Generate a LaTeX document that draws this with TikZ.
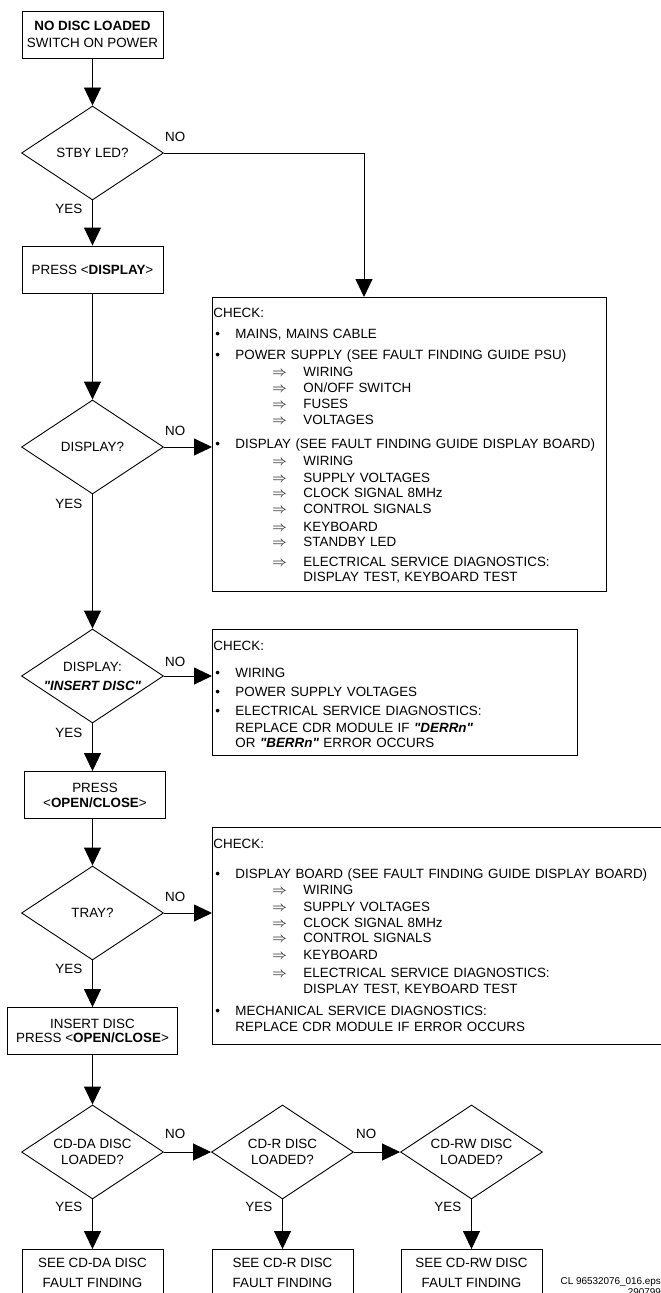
\documentclass[tikz,border=0pt]{standalone}
\usepackage{fontspec}
\setmainfont{Liberation Sans}
\usetikzlibrary{shapes.geometric,arrows.meta,positioning,calc}
\setlength{\parindent}{0pt}
\newcommand{\chartfont}{\fontsize{13.4}{16}\selectfont}
\newcommand{\chkitem}[1]{\makebox[22pt][l]{\hspace{2pt}\textbullet}#1}
\newcommand{\chksub}[1]{\hspace*{59pt}\makebox[31pt][l]{$\Rightarrow$}#1}
\newcommand{\chkcont}[1]{\hspace*{90pt}#1}
\newcommand{\msgtext}[1]{\textbf{\textit{\textquotedbl#1\textquotedbl}}}
\tikzset{
    process/.style = {rectangle, draw=black, line width=0.9pt, minimum width=141pt, minimum height=47pt, inner sep=0pt, align=center, font=\chartfont},
    decision/.style = {diamond, draw=black, line width=0.9pt, minimum width=142pt, minimum height=94pt, inner sep=0pt, shape aspect=1.5, align=center, font=\chartfont},
    checkbox/.style = {rectangle, draw=black, line width=0.9pt, anchor=north west, inner xsep=1pt, inner ysep=0pt, align=left, font=\chartfont},
    lbl/.style = {inner sep=0pt, font=\chartfont},
    arrow/.style = {line width=0.9pt, -{Triangle[length=18pt,width=17pt]}}
}
\begin{document}
\begin{tikzpicture}[x=1pt, y=-1pt]
\useasboundingbox (0,0) rectangle (661,1293);
% left column
\node (start) [process] at (92.5,34.5) {\textbf{NO DISC LOADED}\\[1pt]SWITCH ON POWER};
\node (stby) [decision] at (92.5,153) {STBY LED?};
\node (pressdisp) [process] at (92.5,269.5) {PRESS <\textbf{DISPLAY}>};
\node (dispq) [decision] at (92.5,447) {DISPLAY?};
\node (insq) [decision] at (92.5,676) {DISPLAY:\\[3pt]\msgtext{INSERT DISC}};
\node (pressoc) [process] at (95,795) {PRESS\\[-1pt]<\textbf{OPEN/CLOSE}>};
\node (trayq) [decision] at (92.5,913) {TRAY?};
\node (insdisc) [process, minimum width=170pt] at (92.5,1031) {INSERT DISC\\[-2pt]PRESS <\textbf{OPEN/CLOSE}>};
% bottom row
\node (cdda) [decision] at (92.5,1152) {CD-DA DISC\\LOADED?};
\node (cdr) [decision] at (282.5,1152) {CD-R DISC\\LOADED?};
\node (cdrw) [decision] at (471.5,1152) {CD-RW DISC\\LOADED?};
\node (seeda) [process] at (92.5,1273) {SEE CD-DA DISC\\[4pt]FAULT FINDING};
\node (seer) [process] at (282.5,1273) {SEE CD-R DISC\\[4pt]FAULT FINDING};
\node (seerw) [process] at (471.5,1273) {SEE CD-RW DISC\\[4pt]FAULT FINDING};
% check boxes
\node (chk1) [checkbox, text width=392pt] at (212,297) {\rule{0pt}{20pt}CHECK:\\[5pt]
\chkitem{MAINS, MAINS CABLE}\\[5pt]
\chkitem{POWER SUPPLY (SEE FAULT FINDING GUIDE PSU)}\\[1pt]
\chksub{WIRING}\\
\chksub{ON/OFF SWITCH}\\
\chksub{FUSES}\\
\chksub{VOLTAGES}\\[8pt]
\chkitem{DISPLAY (SEE FAULT FINDING GUIDE DISPLAY BOARD)}\\[1pt]
\chksub{WIRING}\\[1pt]
\chksub{SUPPLY VOLTAGES}\\[-1pt]
\chksub{CLOCK SIGNAL 8MHz}\\
\chksub{CONTROL SIGNALS}\\[2pt]
\chksub{KEYBOARD}\\[-1pt]
\chksub{STANDBY LED}\\[4pt]
\chksub{ELECTRICAL SERVICE DIAGNOSTICS:}\\[-1pt]
\chkcont{DISPLAY TEST, KEYBOARD TEST}\rule[-10pt]{0pt}{10pt}};
\node (chk2) [checkbox, text width=363pt] at (212,629) {\rule{0pt}{21pt}CHECK:\\[11pt]
\chkitem{WIRING}\\[3pt]
\chkitem{POWER SUPPLY VOLTAGES}\\[3pt]
\chkitem{ELECTRICAL SERVICE DIAGNOSTICS:}\\[1pt]
\hspace*{22pt}REPLACE CDR MODULE IF \msgtext{DERRn}\\[-1pt]
\hspace*{22pt}OR \msgtext{BERRn} ERROR OCCURS\rule[-8pt]{0pt}{8pt}};
\node (chk3) [checkbox, text width=460pt] at (212,827) {\rule{0pt}{21pt}CHECK:\\[14pt]
\chkitem{DISPLAY BOARD (SEE FAULT FINDING GUIDE DISPLAY BOARD)}\\
\chksub{WIRING}\\[1pt]
\chksub{SUPPLY VOLTAGES}\\
\chksub{CLOCK SIGNAL 8MHz}\\[-1pt]
\chksub{CONTROL SIGNALS}\\[1pt]
\chksub{KEYBOARD}\\[2pt]
\chksub{ELECTRICAL SERVICE DIAGNOSTICS:}\\
\chkcont{DISPLAY TEST, KEYBOARD TEST}\\[6pt]
\chkitem{MECHANICAL SERVICE DIAGNOSTICS:}\\
\hspace*{22pt}REPLACE CDR MODULE IF ERROR OCCURS\rule[-13pt]{0pt}{13pt}};
\node (epsname) [anchor=north east, inner sep=0pt, align=right, font=\fontsize{9.9}{11}\selectfont] at (661,1277) {CL 96532076\_016.eps\\290799};
% yes / no labels
\node (no1) [lbl, above right=11pt and 1pt of stby.east] {NO};
\node (yes1) [lbl, below left=3pt and 10pt of stby.south] {YES};
\node (no2) [lbl, above right=11pt and 1pt of dispq.east] {NO};
\node (yes2) [lbl, below left=4pt and 10pt of dispq.south] {YES};
\node (no3) [lbl, above right=9pt and 1pt of insq.east] {NO};
\node (yes3) [lbl, below left=4pt and 10pt of insq.south] {YES};
\node (no4) [lbl, above right=11pt and 1pt of trayq.east] {NO};
\node (yes4) [lbl, below left=3pt and 10pt of trayq.south] {YES};
\node (no5) [lbl, above right=13pt and 1pt of cdda.east] {NO};
\node (yes5) [lbl, below left=2pt and 10pt of cdda.south] {YES};
\node (no6) [lbl, above right=13pt and 2pt of cdr.east] {NO};
\node (yes6) [lbl, below left=2pt and 10pt of cdr.south] {YES};
\node (yes7) [lbl, below left=2pt and 10pt of cdrw.south] {YES};
% connectors
\coordinate (nobend) at (364,153);
\draw [arrow] (start) -- (stby);
\draw [arrow] (stby.east) -- (nobend) -- (nobend |- chk1.north);
\draw [arrow] (stby) -- (pressdisp);
\draw [arrow] (pressdisp) -- (dispq);
\draw [arrow] (dispq.east) -- (dispq.east -| chk1.west);
\draw [arrow] (dispq) -- (insq);
\draw [arrow] (insq.east) -- (insq.east -| chk2.west);
\draw [arrow] (insq.south) -- (insq.south |- pressoc.north);
\draw [arrow] (trayq.north |- pressoc.south) -- (trayq.north);
\draw [arrow] (trayq.east) -- (trayq.east -| chk3.west);
\draw [arrow] (trayq) -- (insdisc);
\draw [arrow] (insdisc) -- (cdda);
\draw [arrow] (cdda) -- (cdr);
\draw [arrow] (cdr) -- (cdrw);
\draw [arrow] (cdda) -- (seeda);
\draw [arrow] (cdr) -- (seer);
\draw [arrow] (cdrw) -- (seerw);
\end{tikzpicture}
\end{document}
